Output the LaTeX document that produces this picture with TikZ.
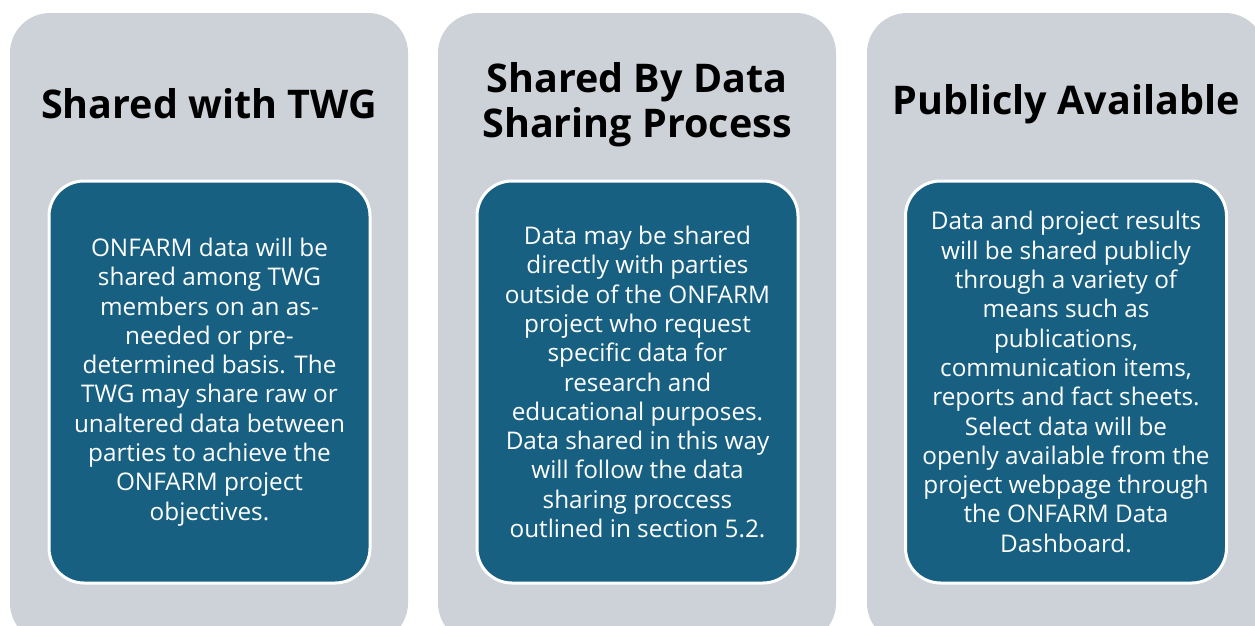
\documentclass[tikz,border=0pt]{standalone}
\usepackage{fontspec}
\setmainfont{Open Sans}
\definecolor{panelgrey}{RGB}{205,209,216}
\definecolor{tealbox}{RGB}{23,96,130}
\tikzset{
  panel/.style={fill=panelgrey, draw=none, rounded corners=40pt, minimum width=398pt, minimum height=630pt, inner sep=0pt},
  bodybox/.style={fill=tealbox, draw=white, line width=3pt, rounded corners=35pt, minimum width=321pt, minimum height=402pt, inner sep=0pt, align=center, text=white, font=\fontsize{24.3}{29.3}\selectfont},
  ttl/.style={align=center, text=black, font=\fontsize{39.5}{45}\selectfont\bfseries, inner sep=0pt}
}
\begin{document}
\begin{tikzpicture}[x=1pt,y=-1pt]
\useasboundingbox (0,0) rectangle (1255,625);
\clip (0,0) rectangle (1255,625);
\fill[white] (0,0) rectangle (1255,625);
\node[panel] (p1) at (209,328) {};
\node[panel] (p2) at (637,328) {};
\node[panel] (p3) at (1066,328) {};
\node[ttl] (t1) at (209,104) {Shared with TWG};
\node[ttl] (t2) at (637,105) {Shared By Data\\Sharing Process};
\node[ttl] (t3) at (1066,104) {Publicly Available};
\node[bodybox] (b1) at (209.5,382) {ONFARM data will be\\shared among TWG\\members on an as-\\needed or pre-\\determined basis. The\\TWG may share raw or\\unaltered data between\\parties to achieve the\\ONFARM project\\objectives.};
\node[bodybox] (b2) at (637.5,382) {Data may be shared\\directly with parties\\outside of the ONFARM\\project who request\\specific data for\\research and\\educational purposes.\\Data shared in this way\\will follow the data\\sharing proccess\\outlined in section 5.2.};
\node[bodybox] (b3) at (1066,382) {Data and project results\\will be shared publicly\\through a variety of\\means such as\\publications,\\communication items,\\reports and fact sheets.\\Select data will be\\openly available from the\\project webpage through\\the ONFARM Data\\Dashboard.};
\end{tikzpicture}
\end{document}
